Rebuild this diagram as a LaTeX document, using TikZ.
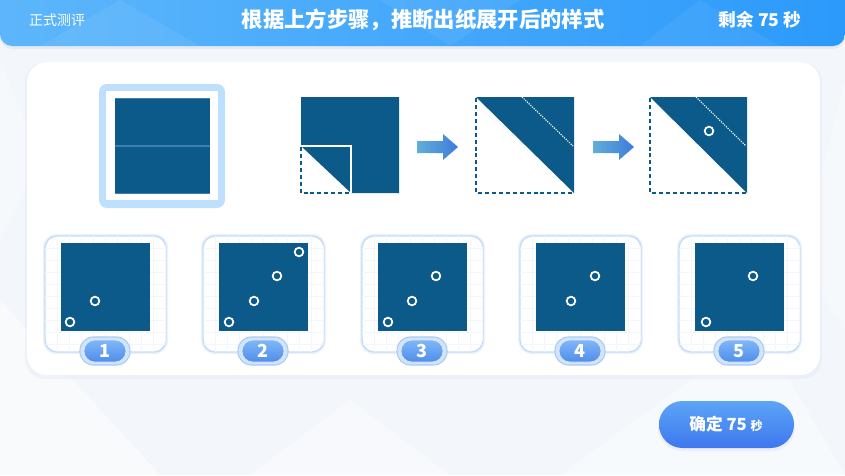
\documentclass[tikz,border=0pt]{standalone}
\usepackage{fontspec}
\newfontfamily\cjk{Noto Sans CJK SC}
\usetikzlibrary{arrows.meta}

\definecolor{paper}{HTML}{0C5A8A}
\definecolor{paperedge}{HTML}{3D7FAE}
\definecolor{bgcol}{HTML}{F3F7FB}
\definecolor{hdrL}{HTML}{5DB6FB}
\definecolor{hdrR}{HTML}{2C9AFB}
\definecolor{selcol}{HTML}{BFE0FD}
\definecolor{cardedge}{HTML}{C6DCF8}
\definecolor{gridcol}{HTML}{F3F7FD}
\definecolor{pillout}{HTML}{D3E5FC}
\definecolor{pilledge}{HTML}{A8CAF5}
\definecolor{pilltop}{HTML}{80B7F8}
\definecolor{pillbot}{HTML}{4F8DEA}
\definecolor{arrL}{HTML}{62AED9}
\definecolor{arrR}{HTML}{3C7DDA}
\definecolor{btnT}{HTML}{5CA5F6}
\definecolor{btnB}{HTML}{3E77EE}

\tikzset{
  sheet/.style={fill=paper},
  foldline/.style={draw=paper, line width=1.2pt, dash pattern=on 3pt off 2.2pt},
  creaseline/.style={draw=white, line width=0.85pt, dash pattern=on 0.85pt off 0.9pt},
  hole/.style={circle, draw=white, line width=1.3pt, minimum size=6.5pt, inner sep=0pt},
  stepArrow/.style={left color=arrL, right color=arrR},
  cardbox/.style={fill=white, draw=cardedge, line width=1.1pt, rounded corners=9pt},
  pilltxt/.style={text=white, font=\cjk\bfseries\fontsize{13.5pt}{14pt}\selectfont},
}

\begin{document}
\begin{tikzpicture}[x=0.75pt,y=-0.75pt]
\useasboundingbox (0,0) rectangle (845,475);

% page background with faint facets
\fill[bgcol] (0,0) rectangle (845,475);
\fill[white, opacity=0.45] (0,300) -- (160,475) -- (0,475) -- cycle;
\fill[white, opacity=0.35] (250,475) -- (350,400) -- (450,475) -- cycle;
\fill[white, opacity=0.4] (560,475) -- (760,330) -- (845,475) -- cycle;
\fill[white, opacity=0.3] (845,80) -- (800,260) -- (845,330) -- cycle;
\fill[white, opacity=0.3] (0,60) -- (40,160) -- (0,240) -- cycle;

% header bar
\fill[black, opacity=0.05, rounded corners=9pt] (0,-20) rectangle (845,49);
\shade[left color=hdrL, right color=hdrR, rounded corners=9pt] (0,-20) rectangle (845,46);
\fill[white, opacity=0.07] (120,0) -- (200,46) -- (40,46) -- cycle;
\fill[white, opacity=0.06] (380,0) -- (520,0) -- (450,46) -- cycle;
\fill[white, opacity=0.06] (640,46) -- (700,0) -- (780,46) -- cycle;
\node (mode) at (57,20) {\cjk\fontsize{10.5pt}{12pt}\selectfont\color{white}正式测评};
\node (title) at (423,20) {\cjk\bfseries\fontsize{16pt}{18pt}\selectfont\color{white}根据上方步骤，推断出纸展开后的样式};
\node (timer) at (760,20) {\cjk\bfseries\fontsize{13.2pt}{15pt}\selectfont\color{white}剩余 75 秒};

% main panel
\fill[black!30!blue!20, opacity=0.18, rounded corners=15pt] (25,62) rectangle (822,379);
\fill[white, rounded corners=15pt] (27,62) rectangle (820,375);

% selected original sheet
\fill[selcol, rounded corners=6pt] (99,84) rectangle (225,208);
\fill[white] (106,91) rectangle (218,200);
\fill[sheet] (115,98) rectangle (210,193);
\draw[paperedge, line width=0.6pt] (115,98) -- (210,98);
\draw[paperedge, line width=0.6pt] (115,193) -- (210,193);
\draw[paperedge, line width=0.8pt] (115,146) -- (210,146);

% step 1: corner folded up
\fill[sheet] (301,97) -- (399,97) -- (399,193) -- (351,193) -- (351,146) -- (301,146) -- cycle;
\fill[sheet] (301,146) -- (351,146) -- (351,193) -- cycle;
\draw[white, line width=1.1pt] (301,146) -- (351,146) -- (351,193);
\draw[foldline] (301,147) -- (301,193) -- (350,193);

% arrow 1
\shade[stepArrow] (417,141) -- (443,141) -- (443,134) -- (458,147) -- (443,160) -- (443,153) -- (417,153) -- cycle;

% step 2: folded along the diagonal
\fill[sheet] (476,97) -- (574,97) -- (574,193) -- cycle;
\draw[creaseline] (522,97) -- (573,146);
\draw[foldline] (476,98) -- (476,193) -- (573,193);

% arrow 2
\shade[stepArrow] (593,141) -- (619,141) -- (619,134) -- (634,147) -- (619,160) -- (619,153) -- (593,153) -- cycle;

% step 3: punched
\fill[sheet] (650,97) -- (747,97) -- (747,193) -- cycle;
\draw[creaseline] (696,97) -- (746,146);
\draw[foldline] (650,98) -- (650,193) -- (746,193);
\node[hole] (punch) at (709,131) {};

% answer options
\foreach \cx/\lab in {45/1, 203/2, 362/3, 520/4, 679/5} {
  \begin{scope}[shift={(\cx,236)}]
    \fill[cardedge!35, rounded corners=10pt] (-2,-2) rectangle (123,118);
    \draw[cardbox] (0,0) rectangle (121,116);
    \begin{scope}
      \clip[rounded corners=9pt] (0,0) rectangle (121,116);
      \foreach \g in {12,24,...,120} {
        \draw[gridcol, line width=0.3pt] (\g,0) -- (\g,116);
        \draw[gridcol, line width=0.3pt] (0,\g) -- (121,\g);
      }
    \end{scope}
    \fill[sheet] (16,7) rectangle (105,95);
    \fill[pillout, draw=pilledge, line width=0.8pt, rounded corners=10pt] (35,101) rectangle (85,129);
    \shade[top color=pilltop, bottom color=pillbot, draw=white!70!pilltop, line width=0.6pt, rounded corners=8pt] (39,104) rectangle (81,126);
    \node[pilltxt] (opt\lab) at (60,115) {\lab};
  \end{scope}
}

% holes in each option (absolute centres)
\node[hole] (h1a) at (95,301) {};
\node[hole] (h1b) at (70,322) {};

\node[hole] (h2a) at (229,322) {};
\node[hole] (h2b) at (254,301) {};
\node[hole] (h2c) at (277,276) {};
\node[hole] (h2d) at (299,252) {};

\node[hole] (h3a) at (388,322) {};
\node[hole] (h3b) at (412,301) {};
\node[hole] (h3c) at (436,276) {};

\node[hole] (h4a) at (571,301) {};
\node[hole] (h4b) at (595,276) {};

\node[hole] (h5a) at (706,322) {};
\node[hole] (h5b) at (753,276) {};

% confirm button
\fill[black!20!blue!30, opacity=0.15, rounded corners=17.6pt] (658,403) rectangle (795,451);
\shade[top color=btnT, bottom color=btnB, rounded corners=17.6pt] (659,401) rectangle (794,448);
\node (confirm) at (726,424) {\cjk\bfseries\color{white}\fontsize{12.5pt}{14pt}\selectfont 确定 75 {\fontsize{9pt}{10pt}\selectfont 秒}};

\end{tikzpicture}
\end{document}
